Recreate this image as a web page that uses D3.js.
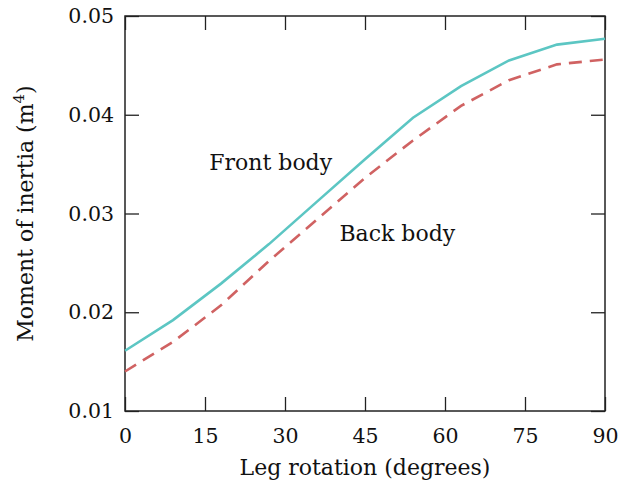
<!DOCTYPE html>
<html>
<head>
<meta charset="utf-8">
<script src="https://cdn.jsdelivr.net/npm/d3@7"></script>
<style>
  body { margin: 0; background: #fff; }
  svg text { font-family: "DejaVu Serif", "Liberation Serif", serif; fill: #111; }
</style>
</head>
<body>
<svg id="chart"></svg>
<script>
// leg rotation (degrees)
const angles = [0, 9, 18, 27, 36, 45, 54, 63, 72, 81, 90];
// moment of inertia (m^4)
const frontBody = [0.0161, 0.0192, 0.0229, 0.0269, 0.0312, 0.0355, 0.0397, 0.0429, 0.0455, 0.0471, 0.0477];
const backBody = [0.0140, 0.0170, 0.0207, 0.0252, 0.0294, 0.0336, 0.0374, 0.0409, 0.0435, 0.0451, 0.0456];
const xTicks = [0, 15, 30, 45, 60, 75, 90];
const yTicks = [0.01, 0.02, 0.03, 0.04, 0.05];

const width = 640, height = 490;
const margin = {top: 16, right: 35, bottom: 79, left: 125};

const svg = d3.select("#chart")
    .attr("width", width)
    .attr("height", height);

const x = d3.scaleLinear().domain([0, 90]).range([margin.left, width - margin.right]);
const y = d3.scaleLinear().domain([0.01, 0.05]).range([height - margin.bottom, margin.top]);

const tickLen = 14;
const fs = "20.5px";   // tick labels
const ls = "22px";     // titles + curve labels

// inward ticks on all four sides
svg.append("g")
    .attr("transform", `translate(0,${y(0.01)})`)
    .call(d3.axisBottom(x).tickValues(xTicks).tickSizeInner(-tickLen).tickSizeOuter(0).tickPadding(17))
    .call(g => g.select(".domain").remove())
    .call(g => g.selectAll("text").style("font-size", fs));

svg.append("g")
    .attr("transform", `translate(0,${y(0.05)})`)
    .call(d3.axisTop(x).tickValues(xTicks).tickSizeInner(-tickLen).tickSizeOuter(0).tickFormat(""))
    .call(g => g.select(".domain").remove());

svg.append("g")
    .attr("transform", `translate(${x(0)},0)`)
    .call(d3.axisLeft(y).tickValues(yTicks).tickSizeInner(-tickLen).tickSizeOuter(0).tickPadding(11).tickFormat(d3.format(".2f")))
    .call(g => g.select(".domain").remove())
    .call(g => g.selectAll("text").style("font-size", fs));

svg.append("g")
    .attr("transform", `translate(${x(90)},0)`)
    .call(d3.axisRight(y).tickValues(yTicks).tickSizeInner(-tickLen).tickSizeOuter(0).tickFormat(""))
    .call(g => g.select(".domain").remove());

svg.selectAll(".tick line").attr("stroke", "#222").attr("stroke-width", 1.3);

// frame
svg.append("rect")
    .attr("x", x(0)).attr("y", y(0.05))
    .attr("width", x(90) - x(0)).attr("height", y(0.01) - y(0.05))
    .attr("fill", "none").attr("stroke", "#222").attr("stroke-width", 1.5);

const line = d3.line().x((d, i) => x(angles[i])).y(d => y(d));

svg.append("path")
    .datum(backBody)
    .attr("d", line)
    .attr("fill", "none")
    .attr("stroke", "#d06262")
    .attr("stroke-width", 2.6)
    .attr("stroke-dasharray", "13,8");

svg.append("path")
    .datum(frontBody)
    .attr("d", line)
    .attr("fill", "none")
    .attr("stroke", "#5cc6c3")
    .attr("stroke-width", 2.6);

// curve labels
svg.append("text").attr("x", x(15.8)).attr("y", y(0.0344)).style("font-size", ls).text("Front body");
svg.append("text").attr("x", x(40.2)).attr("y", y(0.0272)).style("font-size", ls).text("Back body");

// axis titles
svg.append("text")
    .attr("x", (x(0) + x(90)) / 2).attr("y", 475)
    .attr("text-anchor", "middle").style("font-size", ls)
    .text("Leg rotation (degrees)");

const yl = svg.append("text")
    .attr("transform", `translate(33,${(y(0.01) + y(0.05)) / 2}) rotate(-90)`)
    .attr("text-anchor", "middle").style("font-size", ls);
yl.append("tspan").text("Moment of inertia (m");
yl.append("tspan").attr("dy", -9).style("font-size", "15px").text("4");
yl.append("tspan").attr("dy", 9).text(")");
</script>
</body>
</html>
